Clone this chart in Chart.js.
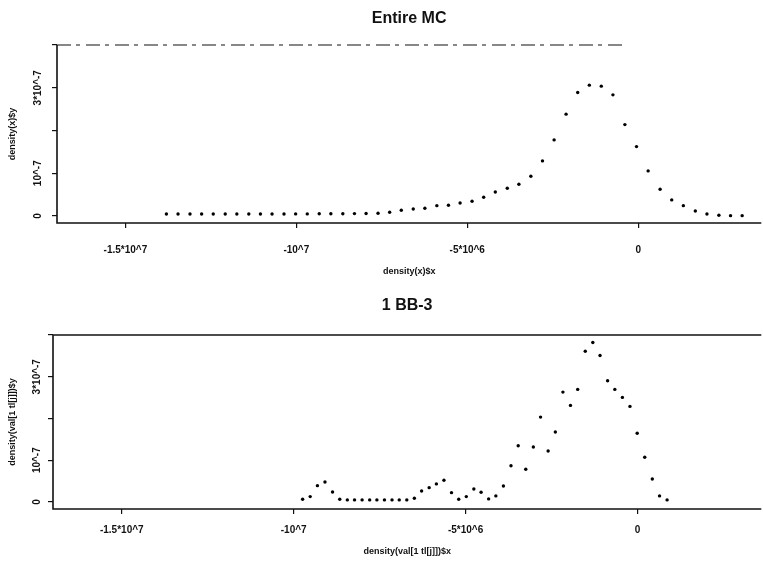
<!DOCTYPE html>
<html>
<head>
<meta charset="utf-8">
<script src="https://cdn.jsdelivr.net/npm/chart.js@4.4.1/dist/chart.umd.min.js"></script>
<style>
  html, body { margin:0; padding:0; background:#fff; }
  #wrap { position:relative; width:763px; height:564px; }
  canvas { position:absolute; left:0; }
</style>
</head>
<body>
<div id="wrap">
  <canvas id="c1" width="763" height="282" style="top:0"></canvas>
  <canvas id="c2" width="763" height="282" style="top:282px"></canvas>
</div>
<script>
// ---- data ----
const xTickValues = [-1.5e7, -1e7, -5e6, 0];
const xTickLabels = ["-1.5*10^7", "-10^7", "-5*10^6", "0"];
const yTickValues = [0, 1e-7, 2e-7, 3e-7, 4e-7];
const yTickLabels = ["0", "10^-7", "", "3*10^-7", ""];

const topTitle = "Entire MC";
const topXTitle = "density(x)$x";
const topYTitle = "density(x)$y";
const topX = [-13.80e6,-13.46e6,-13.11e6,-12.77e6,-12.43e6,-12.08e6,-11.74e6,-11.39e6,-11.05e6,-10.71e6,
  -10.36e6,-10.02e6,-9.68e6,-9.33e6,-8.99e6,-8.64e6,-8.30e6,-7.96e6,-7.61e6,-7.27e6,
  -6.93e6,-6.58e6,-6.24e6,-5.89e6,-5.55e6,-5.21e6,-4.86e6,-4.52e6,-4.18e6,-3.83e6,
  -3.49e6,-3.14e6,-2.80e6,-2.46e6,-2.11e6,-1.77e6,-1.43e6,-1.08e6,-0.74e6,-0.39e6,
  -0.05e6,0.29e6,0.64e6,0.98e6,1.32e6,1.67e6,2.01e6,2.36e6,2.70e6,3.04e6];
const topY = [0.045e-7,0.045e-7,0.045e-7,0.045e-7,0.045e-7,0.045e-7,0.045e-7,0.045e-7,0.045e-7,0.045e-7,
  0.045e-7,0.048e-7,0.048e-7,0.050e-7,0.050e-7,0.052e-7,0.055e-7,0.058e-7,0.063e-7,0.087e-7,
  0.133e-7,0.164e-7,0.180e-7,0.241e-7,0.250e-7,0.304e-7,0.344e-7,0.438e-7,0.562e-7,0.649e-7,
  0.742e-7,0.930e-7,1.288e-7,1.780e-7,2.382e-7,2.888e-7,3.061e-7,3.037e-7,2.834e-7,2.138e-7,
  1.623e-7,1.054e-7,0.625e-7,0.375e-7,0.241e-7,0.117e-7,0.047e-7,0.016e-7,0.007e-7,0.007e-7];

const botTitle = "1 BB-3";
const botXTitle = "density(val[1 tl[j]])$x";
const botYTitle = "density(val[1 tl[j]])$y";
const botX = [-9.74e6,-9.52e6,-9.31e6,-9.09e6,-8.87e6,-8.66e6,-8.44e6,-8.23e6,-8.01e6,-7.79e6,
  -7.58e6,-7.36e6,-7.14e6,-6.93e6,-6.71e6,-6.49e6,-6.28e6,-6.06e6,-5.85e6,-5.63e6,
  -5.41e6,-5.20e6,-4.98e6,-4.76e6,-4.55e6,-4.33e6,-4.12e6,-3.90e6,-3.68e6,-3.47e6,
  -3.25e6,-3.03e6,-2.82e6,-2.60e6,-2.39e6,-2.17e6,-1.95e6,-1.74e6,-1.52e6,-1.30e6,
  -1.09e6,-0.87e6,-0.66e6,-0.44e6,-0.22e6,-0.01e6,0.21e6,0.43e6,0.64e6,0.86e6];
const botY = [0.065e-7,0.127e-7,0.390e-7,0.478e-7,0.239e-7,0.065e-7,0.048e-7,0.048e-7,0.048e-7,0.048e-7,
  0.048e-7,0.048e-7,0.048e-7,0.048e-7,0.048e-7,0.089e-7,0.263e-7,0.342e-7,0.431e-7,0.519e-7,
  0.222e-7,0.065e-7,0.127e-7,0.311e-7,0.232e-7,0.072e-7,0.144e-7,0.383e-7,0.868e-7,1.347e-7,
  0.782e-7,1.316e-7,2.033e-7,1.220e-7,1.675e-7,2.632e-7,2.313e-7,2.696e-7,3.612e-7,3.821e-7,
  3.510e-7,2.902e-7,2.696e-7,2.505e-7,2.289e-7,1.644e-7,1.069e-7,0.550e-7,0.144e-7,0.048e-7];

// ---- drawing ----
const FONT = '"Liberation Sans", Arial, Helvetica, sans-serif';
const INK = '#111';

const deco = {
  id: 'deco',
  afterDraw(chart, args, o) {
    const {ctx, chartArea: a} = chart;
    const y = chart.scales.y;
    ctx.save();
    ctx.fillStyle = INK;
    ctx.font = 'bold 16px ' + FONT;
    ctx.textAlign = 'center';
    ctx.textBaseline = 'middle';
    ctx.fillText(o.title, (a.left + a.right) / 2, o.titleY);
    ctx.strokeStyle = INK;
    ctx.lineWidth = 1.6;
    ctx.beginPath();
    ctx.moveTo(a.left, a.top);
    ctx.lineTo(a.left, a.bottom);
    ctx.lineTo(a.right, a.bottom);
    ctx.stroke();
    ctx.lineWidth = o.topWidth;
    if (o.topDash) ctx.setLineDash(o.topDash);
    ctx.beginPath();
    ctx.moveTo(a.left, a.top);
    ctx.lineTo(o.topEnd || a.right, a.top);
    ctx.stroke();
    ctx.setLineDash([]);
    ctx.font = 'bold 10px ' + FONT;
    yTickValues.forEach((v, i) => {
      const lab = yTickLabels[i];
      if (!lab) return;
      const py = y.getPixelForValue(v);
      ctx.save();
      ctx.translate(o.yLabelX, py);
      ctx.rotate(-Math.PI / 2);
      ctx.fillText(lab, 0, 0);
      ctx.restore();
    });
    ctx.restore();
  }
};

function makeChart(id, xs, ys, cfg) {
  const pts = xs.map((x, i) => ({x: x, y: ys[i]}));
  return new Chart(document.getElementById(id), {
    type: 'scatter',
    data: { datasets: [{ data: pts, pointRadius: 1.7, pointHoverRadius: 1.7,
      backgroundColor: '#000', borderWidth: 0 }] },
    plugins: [deco],
    options: {
      responsive: false, animation: false,
      layout: { padding: { top: cfg.top, left: 0, right: 0, bottom: 0 } },
      plugins: {
        legend: { display: false }, tooltip: { enabled: false },
        deco: { title: cfg.title, titleY: cfg.titleY, yLabelX: cfg.yLabelX,
          topEnd: cfg.topEnd, topDash: cfg.topDash, topWidth: cfg.topWidth }
      },
      scales: {
        x: {
          type: 'linear', position: 'bottom', min: -1.7e7, max: 3.6e6,
          afterBuildTicks: s => { s.ticks = xTickValues.map(v => ({value: v})); },
          afterFit: s => { s.height = cfg.xH; },
          border: { display: false },
          grid: { drawOnChartArea: false, drawTicks: true, tickLength: 5, color: INK, lineWidth: 1.2 },
          ticks: { autoSkip: false, maxRotation: 0, minRotation: 0, padding: cfg.xPad, color: INK,
            font: { family: FONT, size: 10, weight: 'bold' },
            callback: (v) => { const i = xTickValues.indexOf(v); return i >= 0 ? xTickLabels[i] : ''; } },
          title: { display: true, text: cfg.xTitle, color: INK,
            font: { family: FONT, size: 9, weight: 'bold' }, padding: { top: 0, bottom: cfg.xTitlePad } }
        },
        y: {
          type: 'linear', position: 'left', min: cfg.ymin, max: 4.0e-7,
          afterBuildTicks: s => { s.ticks = yTickValues.map(v => ({value: v})); },
          afterFit: s => { s.width = cfg.yW; },
          border: { display: false },
          grid: { drawOnChartArea: false, drawTicks: true, tickLength: 5, color: INK, lineWidth: 1.2 },
          ticks: { display: false },
          title: { display: true, text: cfg.yTitle, color: INK,
            font: { family: FONT, size: 9, weight: 'bold' }, padding: { top: 7.5, bottom: 0 } }
        }
      }
    }
  });
}

makeChart('c1', topX, topY, { title: topTitle, titleY: 19, top: 45, xH: 59, yW: 57, xPad: 16,
  xTitle: topXTitle, yTitle: topYTitle, xTitlePad: 5.5, ymin: -0.165e-7, yLabelX: 38,
  topEnd: 626, topDash: [14, 5, 4, 6], topWidth: 1.2 });
makeChart('c2', botX, botY, { title: botTitle, titleY: 24, top: 53, xH: 55, yW: 53, xPad: 10,
  xTitle: botXTitle, yTitle: botYTitle, xTitlePad: 7.5, ymin: -0.17e-7, yLabelX: 37,
  topEnd: null, topDash: null, topWidth: 1.5 });
</script>
</body>
</html>
